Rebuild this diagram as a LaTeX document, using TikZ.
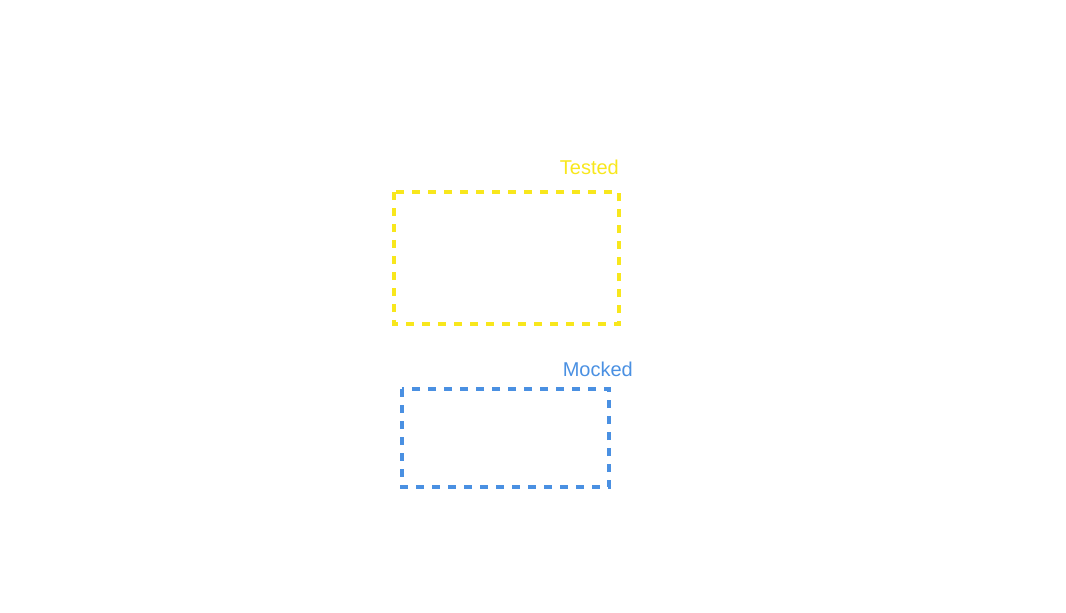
\documentclass[tikz,border=0pt]{standalone}
\usepackage{fontspec}
\setmainfont{Liberation Sans}
\definecolor{testyellow}{HTML}{F8E71C}
\definecolor{mockblue}{HTML}{4A90E2}
\begin{document}
\begin{tikzpicture}[x=1pt,y=-1pt,
  zone/.style={line width=3.5pt,dash pattern=on 8pt off 8pt},
  lbl/.style={anchor=base east,inner sep=0pt,font=\fontsize{20}{23}\selectfont}]
\useasboundingbox (0,0) rectangle (1066,613);
\draw[zone,testyellow] (394,192) rectangle (619,324);
\node[lbl,text=testyellow] (tested) at (619,174) {Tested};
\draw[zone,mockblue] (402,389) rectangle (609,487);
\node[lbl,text=mockblue] (mocked) at (633,376) {Mocked};
\end{tikzpicture}
\end{document}
